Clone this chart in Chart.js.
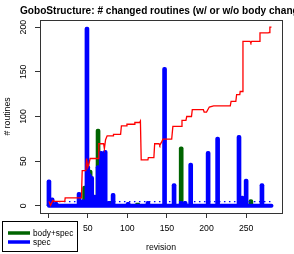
<!DOCTYPE html>
<html><head><meta charset="utf-8">
<script src="https://cdn.jsdelivr.net/npm/chart.js@4"></script>
<style>html,body{margin:0;padding:0;background:#fff;overflow:hidden}</style>
</head><body>
<canvas id="c" width="294" height="254"></canvas>
<script>
const titleText = "GoboStructure: # changed routines (w/ or w/o body changes)";
const xAxisTitle = "revision";
const yAxisTitle = "# routines";
const xTickValues = [0, 50, 100, 150, 200, 250];
const yTickValues = [0, 50, 100, 150, 200];
const revisionRange = [1, 282];
const specMean = 4.8;
const legendLabels = ["body+spec", "spec"];

const specRevs = [1, 5, 10, 39, 44, 49, 50, 52, 55, 59, 63, 67, 72, 76, 82, 101, 126, 147, 159, 168, 173, 180, 202, 214, 241, 245, 250, 270];
const specVals = [29, 9, 4, 15, 7, 200, 45, 36, 33, 12, 45, 61, 62, 5, 14, 4, 5, 155, 25, 5, 5, 48, 61, 77, 79, 11, 30, 25];

const bodyRevs = [1, 46, 53, 63, 79, 113, 168, 256];
const bodyVals = [1, 22, 40, 86, 5, 3, 66, 7];

const redRevs = [1, 3, 6, 8, 21, 21.5, 42, 43, 47.5, 48.5, 50, 51.5, 53, 63, 64, 70, 71, 72.5, 74.5, 82, 82.5, 91.5, 92.5, 99, 99.5, 109, 109.5, 115.5, 116.5, 117.5, 126, 126.5, 133.5, 134.5, 140, 141, 143, 145, 156, 157.5, 168.5, 169, 174, 175, 181, 182, 196, 197, 200, 203.5, 209, 230, 231, 237, 238, 242, 242.5, 245, 246, 255, 256, 257, 267, 267.5, 278, 279, 280, 282];
const redVals = [5, 0.5, 6, 5, 5, 9, 9, 39.5, 39.5, 53, 43, 47, 53, 53, 69.5, 69.5, 64, 74, 78.4, 78.4, 80, 80, 89.6, 89.6, 91.3, 91.3, 93.3, 93.3, 95, 51.5, 51.5, 54, 54, 69.5, 69.5, 67.7, 71, 74.7, 74.7, 89, 89, 95.6, 95.6, 100, 100, 107.6, 107.6, 105, 105, 110.6, 112, 112, 117, 117, 124.4, 124.4, 128, 128, 184, 184, 182.5, 184, 184, 193.5, 193.5, 194, 200, 200];

const FONT = '"Liberation Sans", Arial, Helvetica, sans-serif';
const pts = (xs, ys) => xs.map((x, i) => ({x: x, y: ys[i]}));

const overlay = {
  id: 'overlay',
  afterDraw(chart) {
    const ctx = chart.ctx, a = chart.chartArea;
    ctx.save();
    // plot box
    ctx.strokeStyle = '#333'; ctx.lineWidth = 1;
    ctx.strokeRect(Math.round(a.left) + 0.5, Math.round(a.top) + 0.5, Math.round(a.right - a.left), Math.round(a.bottom - a.top));
    // title
    ctx.fillStyle = '#000';
    ctx.font = 'bold 10.1px ' + FONT;
    ctx.textAlign = 'left'; ctx.textBaseline = 'alphabetic';
    ctx.fillText(titleText, 20, 14);
    // legend
    ctx.fillStyle = '#fff';
    ctx.fillRect(2.5, 221.5, 75, 30);
    ctx.strokeStyle = '#000';
    ctx.strokeRect(2.5, 221.5, 75, 30);
    const cols = ['#006400', '#0000ff'];
    const ys = [233, 242];
    ctx.font = '8.3px ' + FONT; ctx.textAlign = 'left'; ctx.textBaseline = 'middle';
    for (let i = 0; i < 2; i++) {
      ctx.strokeStyle = cols[i]; ctx.lineWidth = 3.5; ctx.lineCap = 'butt';
      ctx.beginPath(); ctx.moveTo(8, ys[i]); ctx.lineTo(30, ys[i]); ctx.stroke();
      ctx.fillStyle = '#000';
      ctx.fillText(legendLabels[i], 33, ys[i] + 0.5);
    }
    ctx.restore();
  }
};

new Chart(document.getElementById('c'), {
  type: 'bar',
  data: {
    datasets: [
      {type: 'line', data: pts(redRevs, redVals), borderColor: '#ff0000', borderWidth: 1.3, pointRadius: 0, tension: 0, order: 0},
      {type: 'line', data: [{x: revisionRange[0], y: specMean}, {x: revisionRange[1], y: specMean}], borderColor: '#0000ff', borderWidth: 1.2, borderDash: [1.5, 3.5], pointRadius: 0, order: 1},
      {type: 'bar', data: pts(specRevs, specVals), backgroundColor: '#0000ff', barThickness: 4, grouped: false, borderRadius: {topLeft: 2, topRight: 2}, order: 2},
      {type: 'line', data: [{x: revisionRange[0], y: 0}, {x: revisionRange[1], y: 0}], borderColor: '#0000ff', borderWidth: 4, borderCapStyle: 'round', pointRadius: 0, order: 3},
      {type: 'bar', data: pts(bodyRevs, bodyVals), backgroundColor: '#006400', barThickness: 4, grouped: false, borderRadius: {topLeft: 2, topRight: 2}, order: 4}
    ]
  },
  options: {
    responsive: false, animation: false, devicePixelRatio: 1,
    layout: {padding: {left: 0, top: 20, right: 12, bottom: 0}},
    plugins: {legend: {display: false}, tooltip: {enabled: false}, title: {display: false}},
    scales: {
      x: {
        type: 'linear', min: -10.3, max: 295.3, offset: false,
        afterBuildTicks: s => { s.ticks = xTickValues.map(v => ({value: v})); },
        afterFit: s => { s.height = 41; },
        ticks: {font: {family: FONT, size: 8.7}, color: '#000', padding: 5, maxRotation: 0, autoSkip: false},
        grid: {display: true, drawOnChartArea: false, drawTicks: true, tickLength: 5, color: '#333', offset: false},
        border: {display: true, color: '#333'},
        title: {display: true, text: xAxisTitle, color: '#000', font: {family: FONT, size: 8.7}, padding: {top: 0, bottom: 1}}
      },
      y: {
        type: 'linear', min: -8, max: 208,
        afterBuildTicks: s => { s.ticks = yTickValues.map(v => ({value: v})); },
        afterFit: s => { s.width = 40; },
        ticks: {font: {family: FONT, size: 8.7}, color: '#000', padding: 4, minRotation: 90, maxRotation: 90, crossAlign: 'center', autoSkip: false},
        grid: {display: true, drawOnChartArea: false, drawTicks: true, tickLength: 5, color: '#333'},
        border: {display: true, color: '#333'},
        title: {display: true, text: yAxisTitle, color: '#000', font: {family: FONT, size: 8.7}, padding: {top: 2, bottom: 0}}
      }
    }
  },
  plugins: [overlay]
});
</script>
</body></html>
